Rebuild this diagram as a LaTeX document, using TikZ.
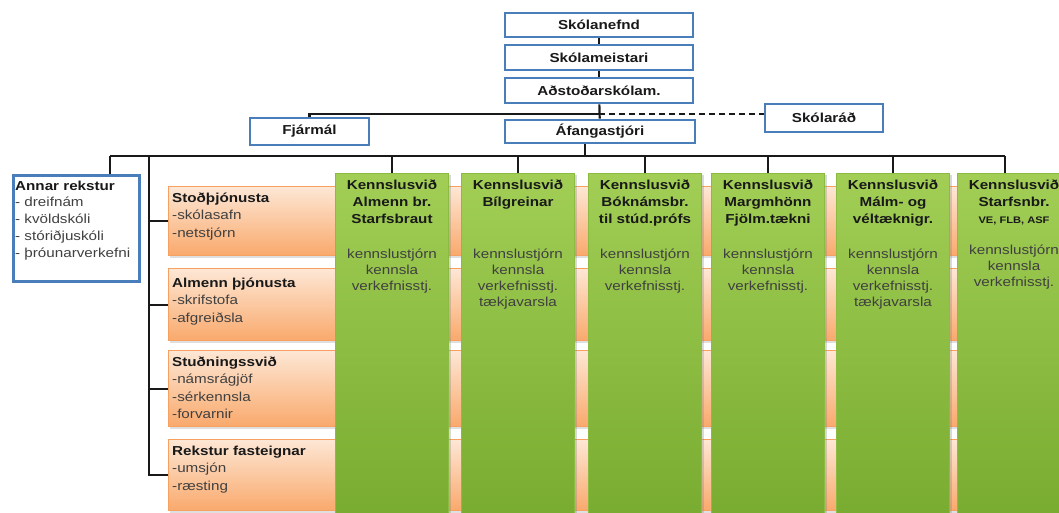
\documentclass[tikz,border=0pt]{standalone}
\usepackage{fontspec}
\setmainfont{Liberation Sans}[FakeStretch=1.17]
\usetikzlibrary{shadows}
\definecolor{bluebd}{HTML}{4A7EBB}
\definecolor{orbd}{HTML}{F6A062}
\definecolor{orT}{HTML}{FDE7D5}
\definecolor{orB}{HTML}{F9A96C}
\definecolor{grT}{HTML}{A2CE55}
\definecolor{grB}{HTML}{76AA2E}
\definecolor{grbd}{HTML}{8CBB42}
\definecolor{itemgray}{HTML}{404040}
\tikzset{
  conn/.style={draw=black!90, line width=2.2pt},
  dconn/.style={draw=black!90, line width=1.8pt, dash pattern=on 6pt off 4pt},
  bluebox/.style={draw=bluebd, line width=2.6pt, fill=white, inner sep=0pt,
    font=\bfseries\fontsize{13}{15}\selectfont, text=black!90},
  obar/.style={anchor=north west, minimum width=910pt, draw=orbd, line width=1.2pt,
    top color=orT, bottom color=orB, inner sep=0pt,
    drop shadow={opacity=0.25, shadow xshift=1.5pt, shadow yshift=-2pt}},
  gcol/.style={anchor=north, minimum width=113pt, minimum height=360pt, draw=grbd,
    line width=1.2pt, top color=grT, bottom color=grB, inner sep=0pt,
    drop shadow={opacity=0.3, shadow xshift=2pt, shadow yshift=-1pt}},
  ghead/.style={anchor=north, align=center, inner sep=0pt,
    font=\bfseries\fontsize{13}{17}\selectfont, text=black!90},
  gbody/.style={anchor=north, align=center, inner sep=0pt,
    font=\fontsize{13}{16.2}\selectfont, text=itemgray},
  otxt/.style={anchor=north west, align=left, inner sep=0pt,
    font=\fontsize{13}{17.5}\selectfont, text=itemgray},
  atxt/.style={anchor=north west, align=left, inner sep=0pt,
    font=\fontsize{13}{16.8}\selectfont, text=itemgray},
}
\begin{document}
\begin{tikzpicture}[x=1pt,y=-1pt]
\useasboundingbox (0,0) rectangle (1059,513);
\fill[white] (0,0) rectangle (1059,513);

% top hierarchy
\node[bluebox, minimum width=188pt, minimum height=24pt] (nefnd) at (599,25) {Skólanefnd};
\node[bluebox, minimum width=188pt, minimum height=25pt] (meist) at (599,57.5) {Skólameistari};
\node[bluebox, minimum width=188pt, minimum height=25pt] (adst) at (599,90.5) {Aðstoðarskólam.};
\node[bluebox, minimum width=190pt, minimum height=23pt] (afanga) at (600,131.5) {Áfangastjóri};
\node[bluebox, minimum width=119pt, minimum height=27pt] (fjar) at (309.5,131.5) {Fjármál};
\node[bluebox, minimum width=118pt, minimum height=28pt] (rad) at (824,118) {Skólaráð};

% annar rekstur
\node[bluebox, anchor=north west, minimum width=126pt, minimum height=106pt] (annar) at (12,174) {};
\node[atxt] (annartxt) at (15,180.5) {\textcolor{black!90}{\bfseries Annar rekstur}\\- dreifnám\\- kvöldskóli\\- stóriðjuskóli\\- þróunarverkefni};

% orange bars
\node[obar, minimum height=69pt] (stod) at (168,186) {};
\node[obar, minimum height=72pt] (almenn) at (168,268) {};
\node[obar, minimum height=76pt] (studn) at (168,350) {};
\node[obar, minimum height=71pt] (rekstur) at (168,439) {};
\node[otxt] (stodt) at (172,192.5) {\textcolor{black!90}{\bfseries Stoðþjónusta}\\-skólasafn\\-netstjórn};
\node[otxt] (almennt) at (172,277.5) {\textcolor{black!90}{\bfseries Almenn þjónusta}\\-skrifstofa\\-afgreiðsla};
\node[otxt] (studnt) at (172,356.5) {\textcolor{black!90}{\bfseries Stuðningssvið}\\-námsrágjöf\\-sérkennsla\\-forvarnir};
\node[otxt] (rekstt) at (172,445.5) {\textcolor{black!90}{\bfseries Rekstur fasteignar}\\-umsjón\\-ræsting};

% green columns
\node[gcol] (g1) at (392,173) {};
\node[gcol] (g2) at (518,173) {};
\node[gcol] (g3) at (645,173) {};
\node[gcol] (g4) at (768,173) {};
\node[gcol] (g5) at (893,173) {};
\node[gcol] (g6) at (1014,173) {};

\node[ghead] (g1h) at (392,179.5) {Kennslusvið\\Almenn br.\\Starfsbraut};
\node[ghead] (g2h) at (518,179.5) {Kennslusvið\\Bílgreinar};
\node[ghead] (g3h) at (645,179.5) {Kennslusvið\\Bóknámsbr.\\til stúd.prófs};
\node[ghead] (g4h) at (768,179.5) {Kennslusvið\\Margmhönn\\Fjölm.tækni};
\node[ghead] (g5h) at (893,179.5) {Kennslusvið\\Málm- og\\véltæknigr.};
\node[ghead] (g6h) at (1014,179.5) {Kennslusvið\\Starfsnbr.\\{\fontsize{9.5}{10}\selectfont VE, FLB, ASF}};

\node[gbody] (g1b) at (392,248.5) {kennslustjórn\\kennsla\\verkefnisstj.};
\node[gbody] (g2b) at (518,248.5) {kennslustjórn\\kennsla\\verkefnisstj.\\tækjavarsla};
\node[gbody] (g3b) at (645,248.5) {kennslustjórn\\kennsla\\verkefnisstj.};
\node[gbody] (g4b) at (768,248.5) {kennslustjórn\\kennsla\\verkefnisstj.};
\node[gbody] (g5b) at (893,248.5) {kennslustjórn\\kennsla\\verkefnisstj.\\tækjavarsla};
\node[gbody] (g6b) at (1014,244.5) {kennslustjórn\\kennsla\\verkefnisstj.};

% connectors
\draw[conn] (nefnd) -- (meist);
\draw[conn] (meist) -- (adst);
\draw[conn] (adst) -- (afanga);
\coordinate (hub) at (599,114);
\draw[conn] (fjar.north) |- (hub);
\draw[dconn] (hub) -- (hub -| rad.west);

\coordinate (busL) at (110,156);
\coordinate (busR) at (1005,156);
\coordinate (afB) at ([xshift=-15pt]afanga.south);
\draw[conn] (busL) -- (busR);
\draw[conn] (afB) -- (afB |- busL);
\draw[conn] (busL) -- (busL |- annar.north);
\foreach \g in {g1,g2,g3,g4,g5} {
  \draw[conn] (\g.north |- busL) -- (\g.north);
}
\draw[conn] (busR) -- (busR |- g6.north);

\coordinate (spT) at (149,156);
\draw[conn] (spT) |- (rekstur.west);
\draw[conn] (spT |- stod.west) -- (stod.west);
\draw[conn] (spT |- almenn.west) -- (almenn.west);
\draw[conn] (spT |- studn.west) -- (studn.west);
\end{tikzpicture}
\end{document}
